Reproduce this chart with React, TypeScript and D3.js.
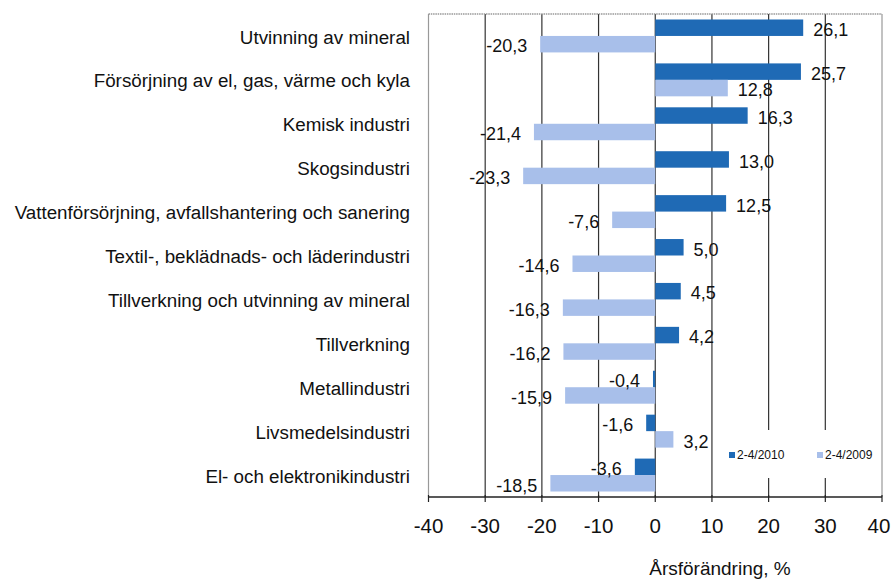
import React from "react";
import * as d3 from "d3";

const categories = [
  "Utvinning av mineral",
  "Försörjning av el, gas, värme och kyla",
  "Kemisk industri",
  "Skogsindustri",
  "Vattenförsörjning, avfallshantering och sanering",
  "Textil-, beklädnads- och läderindustri",
  "Tillverkning och utvinning av mineral",
  "Tillverkning",
  "Metallindustri",
  "Livsmedelsindustri",
  "El- och elektronikindustri",
];
const series2010 = [26.1, 25.7, 16.3, 13.0, 12.5, 5.0, 4.5, 4.2, -0.4, -1.6, -3.6];
const series2009 = [-20.3, 12.8, -21.4, -23.3, -7.6, -14.6, -16.3, -16.2, -15.9, 3.2, -18.5];
const seriesNames = ["2-4/2010", "2-4/2009"];
const xTicks = [-40, -30, -20, -10, 0, 10, 20, 30, 40];
const gridValues = [-30, -20, -10, 0, 10, 20, 30];
const axisTitle = "Årsförändring, %";

const W = 891;
const H = 581;
const FONT = "'Liberation Sans', Arial, Helvetica, sans-serif";
const COLORS = ["#1F6AB5", "#A8BFEA"];

export default function App() {
  const left = 428.5, right = 882, top = 14, bottom = 497;
  const x = d3.scaleLinear().domain([-40, 40]).range([left, right]);
  const y = d3
    .scaleBand<string>()
    .domain(categories)
    .range([top, bottom])
    .paddingInner(0.25)
    .paddingOuter(0.125);
  const sub = d3.scaleBand<string>().domain(seriesNames).range([0, y.bandwidth()]);
  const fmt = (v: number) => d3.format(".1f")(v).replace(".", ",").replace("−", "-");
  const allSeries = [series2010, series2009];

  return (
    <svg
      width={W}
      height={H}
      style={{ position: "absolute", left: 0, top: 0, background: "#fff" }}
      fontFamily={FONT}
    >
      <rect x={0} y={0} width={W} height={H} fill="#fff" />
      {/* gridlines */}
      {gridValues.map((g) => (
        <line key={g} x1={x(g)} x2={x(g)} y1={top} y2={bottom} stroke="#333" strokeWidth={1.2} />
      ))}
      {/* plot border */}
      <line x1={left} x2={left} y1={top} y2={bottom} stroke="#999" strokeWidth={1.2} />
      <line x1={right} x2={right} y1={top} y2={bottom} stroke="#999" strokeWidth={1.2} />
      <line x1={left} x2={right} y1={top} y2={top} stroke="#999" strokeWidth={1.5} strokeDasharray="1.5,0.8" />
      {/* bars */}
      {allSeries.map((vals, si) =>
        vals.map((v, i) => {
          const yy = (y(categories[i]) as number) + (sub(seriesNames[si]) as number);
          const x0 = x(Math.min(0, v));
          const w = Math.abs(x(v) - x(0));
          return (
            <rect key={si + "-" + i} x={x0} y={yy} width={w} height={sub.bandwidth()} fill={COLORS[si]} />
          );
        })
      )}
      {/* value labels */}
      {allSeries.map((vals, si) =>
        vals.map((v, i) => {
          const yy = (y(categories[i]) as number) + (sub(seriesNames[si]) as number) + sub.bandwidth() / 2;
          const pos = v >= 0;
          return (
            <text
              key={"l" + si + "-" + i}
              x={pos ? x(v) + 10 : x(v) - 13}
              y={yy + 2}
              dy="0.35em"
              textAnchor={pos ? "start" : "end"}
              fontSize={18}
              fill="#111"
            >
              {fmt(v)}
            </text>
          );
        })
      )}
      {/* category labels */}
      {categories.map((c) => (
        <text
          key={c}
          x={410}
          y={(y(c) as number) + y.bandwidth() / 2 + 1}
          dy="0.35em"
          textAnchor="end"
          fontSize={18.8}
          fill="#111"
        >
          {c}
        </text>
      ))}
      {/* x axis */}
      <line x1={left} x2={right} y1={bottom} y2={bottom} stroke="#222" strokeWidth={1.5} />
      {xTicks.map((t) => (
        <g key={t}>
          <line x1={x(t)} x2={x(t)} y1={bottom - 2} y2={bottom + 5} stroke="#222" strokeWidth={1.2} />
          <text x={Math.min(x(t), W - 12)} y={526} dy="0.35em" textAnchor="middle" fontSize={20.5} fill="#111">
            {t}
          </text>
        </g>
      ))}
      <text x={720} y={568} dy="0.35em" textAnchor="middle" fontSize={19} fill="#111">
        {axisTitle}
      </text>
      {/* legend */}
      <rect x={722} y={430} width={158} height={48} fill="#fff" />
      {seriesNames.map((s, i) => {
        const lx = i === 0 ? 729 : 817;
        return (
          <g key={s}>
            <rect x={lx} y={452} width={6} height={6} fill={COLORS[i]} />
            <text x={lx + 8} y={455} dy="0.35em" fontSize={12} fill="#111">
              {s}
            </text>
          </g>
        );
      })}
    </svg>
  );
}
